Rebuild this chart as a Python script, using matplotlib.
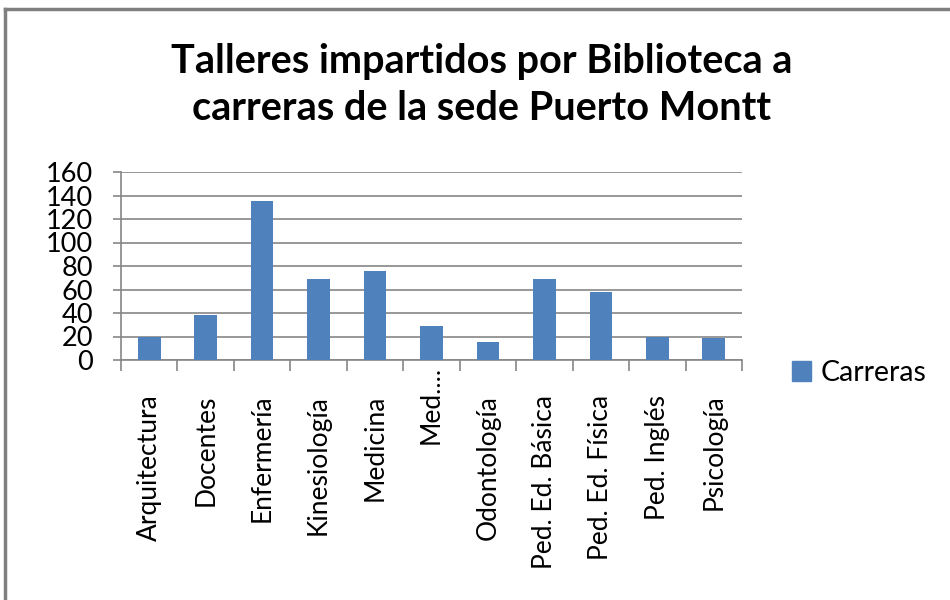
import matplotlib.pyplot as plt
from matplotlib.lines import Line2D
from matplotlib.patches import Patch
from matplotlib.transforms import ScaledTranslation

plt.rcParams['font.family'] = ['Lato', 'DejaVu Sans']

# data
carreras = ["Arquitectura", "Docentes", "Enfermería", "Kinesiología", "Medicina",
            "Med....", "Odontología", "Ped. Ed. Básica", "Ped. Ed. Física",
            "Ped. Inglés", "Psicología"]
talleres = [20, 38, 135, 69, 76, 29, 15, 69, 58, 20, 19]
yticks = [0, 20, 40, 60, 80, 100, 120, 140, 160]

bar_color = "#4F81BD"
grid_color = "#868686"

fig = plt.figure(figsize=(9.5, 6), dpi=100)
ax = fig.add_axes([121/950, 1 - 360/600, (742 - 121)/950, (360 - 172)/600])

x = list(range(len(carreras)))
ax.bar(x, talleres, width=0.4, color=bar_color, zorder=3)

ax.set_xlim(-0.5, len(carreras) - 0.5)
ax.set_ylim(0, 160)
ax.set_yticks(yticks)
ax.set_yticklabels([str(v) for v in yticks], fontsize=19.5)
ax.yaxis.grid(True, color=grid_color, linewidth=1.2, zorder=0)

# category labels centred, tick marks on category boundaries
ax.set_xticks(x)
ax.set_xticklabels(carreras, rotation=90, fontsize=19)
ax.tick_params(axis='x', which='major', length=0, pad=25)
ax.set_xticks([i - 0.5 for i in range(len(carreras) + 1)], minor=True)
ax.tick_params(axis='x', which='minor', length=8, color=grid_color, width=1.2)
ax.tick_params(axis='y', length=6, color=grid_color, width=1.2, pad=14)

# truncated label sits higher in the reference
for lbl in ax.get_xticklabels():
    if lbl.get_text().startswith("Med...."):
        lbl.set_transform(lbl.get_transform() + ScaledTranslation(0, 0.29, fig.dpi_scale_trans))

for side in ['top', 'right']:
    ax.spines[side].set_visible(False)
for side in ['left', 'bottom']:
    ax.spines[side].set_color(grid_color)
    ax.spines[side].set_linewidth(1.2)

fig.text(0.507, 1 - 85/600, "Talleres impartidos por Biblioteca a\ncarreras de la sede Puerto Montt",
         ha='center', va='center', fontsize=28.5, fontweight='bold', linespacing=1.3)

ax.legend(handles=[Patch(color=bar_color, label="Carreras")],
          loc='center left', bbox_to_anchor=(778/950, 1 - 373/600),
          bbox_transform=fig.transFigure, frameon=False, fontsize=20.5,
          handlelength=0.65, handleheight=0.65, handletextpad=0.35, borderpad=0)

# outer frame (only top and left visible in the reference)
fig.add_artist(Line2D([5/950, 1], [1 - 9/600, 1 - 9/600], color="#808080", linewidth=2.5))
fig.add_artist(Line2D([5/950, 5/950], [0, 1 - 9/600], color="#808080", linewidth=2.5))

plt.savefig("out.png", dpi=100)
